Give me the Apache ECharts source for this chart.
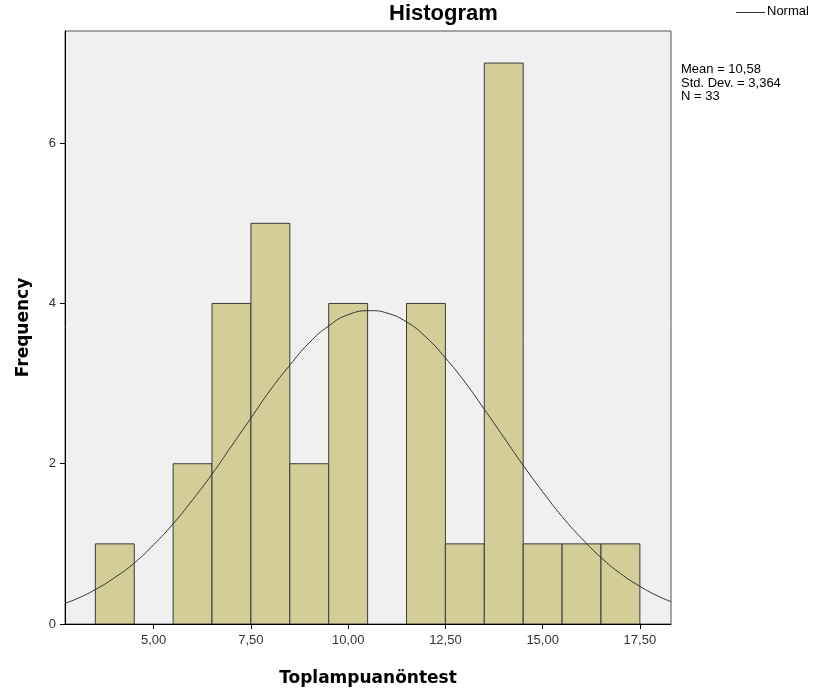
<!DOCTYPE html>
<html>
<head>
<meta charset="utf-8">
<script src="https://cdn.jsdelivr.net/npm/echarts@6/dist/echarts.min.js"></script>
<style>
html,body{margin:0;padding:0;background:#fff;}
#chart{width:818px;height:697px;}
</style>
</head>
<body>
<div id="chart"></div>
<script>
// ---- data ----
const binStarts = [3.5, 4.5, 5.5, 6.5, 7.5, 8.5, 9.5, 10.5, 11.5, 12.5, 13.5, 14.5, 15.5, 16.5];
const binWidth = 1;
const counts = [1, 0, 2, 4, 5, 2, 4, 0, 4, 1, 7, 1, 1, 1];
const xTickValues = [5, 7.5, 10, 12.5, 15, 17.5];
const yTickValues = [0, 2, 4, 6];
const normalX = [2.72, 3, 3.5, 4, 4.5, 5, 5.5, 6, 6.5, 7, 7.5, 8, 8.5, 9, 9.5, 10, 10.58, 11, 11.5, 12, 12.5, 13, 13.5, 14, 14.5, 15, 15.5, 16, 16.5, 17, 17.5, 18, 18.3];
const normalY = [0.26, 0.31, 0.43, 0.58, 0.76, 0.99, 1.25, 1.55, 1.87, 2.22, 2.57, 2.92, 3.23, 3.51, 3.72, 3.86, 3.91, 3.88, 3.77, 3.58, 3.32, 3.02, 2.68, 2.33, 1.98, 1.65, 1.34, 1.07, 0.83, 0.63, 0.47, 0.34, 0.28];
const statsLines = ['Mean = 10,58', 'Std. Dev. = 3,364', 'N = 33'];
const titleText = 'Histogram';
const xName = 'Toplampuanöntest';
const yName = 'Frequency';
const legendName = 'Normal';

const barData = binStarts.map((s, i) => [s, s + binWidth, counts[i]]).filter(d => d[2] > 0);
const lineData = normalX.map((x, i) => [x, normalY[i]]);

const chart = echarts.init(document.getElementById('chart'), null, {renderer: 'canvas'});
const fmt = v => v.toFixed(2).replace('.', ',');

chart.setOption({
  animation: false,
  backgroundColor: '#ffffff',
  textStyle: {fontFamily: 'Liberation Sans, Arial, sans-serif'},
  grid: {
    left: 65, top: 31, right: 147, bottom: 73,
    show: true, backgroundColor: '#F0F0F0', borderColor: '#555', borderWidth: 1
  },
  xAxis: {
    type: 'value', min: 2.72, max: 18.3,
    name: xName, nameLocation: 'middle', nameGap: 46,
    nameTextStyle: {fontFamily: 'DejaVu Sans', fontWeight: 'bold', fontSize: 17, color: '#000'},
    splitLine: {show: false},
    axisLine: {show: true, onZero: false, lineStyle: {color: '#000', width: 1}},
    axisTick: {show: true, length: 5, customValues: xTickValues, lineStyle: {color: '#000'}},
    axisLabel: {customValues: xTickValues, formatter: fmt, color: '#333', fontSize: 13, margin: 10,
      fontFamily: 'Liberation Sans, Arial, sans-serif'}
  },
  yAxis: {
    type: 'value', min: 0, max: 7.4,
    name: yName, nameLocation: 'middle', nameGap: 33, nameRotate: 90,
    nameTextStyle: {fontFamily: 'DejaVu Sans', fontWeight: 'bold', fontSize: 17, color: '#000'},
    splitLine: {show: false},
    axisLine: {show: true, lineStyle: {color: '#000', width: 1}},
    axisTick: {show: true, length: 5, customValues: yTickValues, lineStyle: {color: '#000'}},
    axisLabel: {customValues: yTickValues, color: '#333', fontSize: 13, margin: 9,
      fontFamily: 'Liberation Sans, Arial, sans-serif'}
  },
  series: [
    {
      type: 'custom',
      data: barData,
      clip: true,
      encode: {x: [0, 1], y: 2},
      renderItem: function (params, api) {
        const p0 = api.coord([api.value(0), api.value(2)]);
        const p1 = api.coord([api.value(1), 0]);
        return {
          type: 'rect',
          shape: {x: p0[0], y: p0[1], width: p1[0] - p0[0], height: p1[1] - p0[1]},
          style: {fill: '#D3CE97', stroke: '#3a3a3a', lineWidth: 1}
        };
      },
      z: 2
    },
    {
      type: 'line',
      name: legendName,
      data: lineData,
      smooth: true,
      showSymbol: false,
      clip: true,
      lineStyle: {color: '#333', width: 1},
      z: 3
    }
  ],
  graphic: [
    {type: 'text', left: 444 - 55, top: 3, style: {text: titleText, font: 'bold 22px "Liberation Sans", Arial, sans-serif', fill: '#000'}},
    {type: 'line', shape: {x1: 736, y1: 12.5, x2: 765, y2: 12.5}, style: {stroke: '#333', lineWidth: 1}},
    {type: 'text', left: 767, top: 5, style: {text: legendName, font: '13px "Liberation Sans", Arial, sans-serif', fill: '#000'}},
    {type: 'text', left: 681, top: 63, style: {text: statsLines.join('\n'), font: '13px "Liberation Sans", Arial, sans-serif', lineHeight: 13.5, fill: '#000'}}
  ]
});
</script>
</body>
</html>
